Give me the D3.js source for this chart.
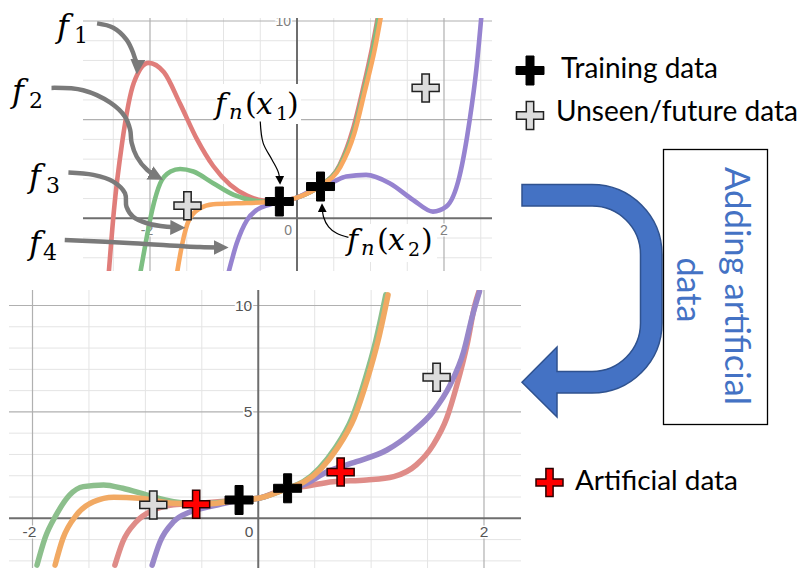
<!DOCTYPE html>
<html>
<head>
<meta charset="utf-8">
<script src="https://cdn.jsdelivr.net/npm/d3@7"></script>
<style>
body { margin: 0; background: #fff; }
svg { display: block; }
</style>
</head>
<body>
<div id="chart"></div>
<script>
// grid / tick values
const topXMinor = [-2.5, -1.5, -1, -0.5, 0.5, 1, 1.5, 2.5];
const botXMinor = [-1.5, -1, -0.5, 0.5, 1, 1.5];
const xMajor = [-2, 2];
const yMinor = [-2, -1, 1, 2, 3, 4, 6, 7, 8, 9];
const yMajor = [5, 10];
const xTickLabels = [-2, 0, 2];
const yTickLabelsTop = [10];      // the "5" sits under the f_n(x1) label
const yTickLabelsBot = [5, 10];

// top panel: the four fitted functions (x, y)
const f1Top = [[-2.56,-2.72],[-2.49,0.42],[-2.38,3.81],[-2.22,6.87],[-2.02,7.88],[-1.81,7.4],[-1.59,5.8],[-1.36,4.0],[-1.14,2.65],[-0.91,1.7],[-0.68,1.15],[-0.46,0.9],[-0.24,0.85],[0,1.05],[0.31,1.63],[0.58,2.7],[0.76,4.5],[0.9,6.6],[1.03,8.8],[1.11,10.4]];
const f2Top = [[-2.13,-2.72],[-2.06,-1.27],[-1.97,0.42],[-1.86,1.78],[-1.72,2.37],[-1.59,2.5],[-1.41,2.37],[-1.14,1.78],[-0.86,1.19],[-0.59,0.9],[-0.32,0.82],[-0.24,0.85],[0,1.05],[0.31,1.63],[0.58,2.65],[0.77,4.4],[0.91,6.5],[1.04,8.7],[1.12,10.4]];
const f3Top = [[-1.63,-2.72],[-1.56,-1.27],[-1.47,-0.09],[-1.32,0.51],[-1.14,0.71],[-0.82,0.76],[-0.5,0.8],[-0.24,0.85],[0,1.05],[0.31,1.63],[0.59,2.6],[0.78,4.3],[0.92,6.4],[1.06,8.6],[1.15,10.4]];
const f4Top = [[-0.93,-2.72],[-0.82,-1.27],[-0.68,-0.09],[-0.55,0.42],[-0.37,0.7],[-0.24,0.85],[0,1.05],[0.31,1.63],[0.49,1.85],[0.67,2.12],[0.94,2.2],[1.26,1.78],[1.58,0.93],[1.85,0.34],[2.03,0.59],[2.21,2.12],[2.35,5.0],[2.44,7.54],[2.51,10.3]];
const trainTop = [[-0.24, 0.85], [0.32, 1.61]];
const unseenTop = [[-1.49, 0.64], [1.75, 6.61]];

// bottom panel: functions after adding artificial data
const f1Bot = [[-1.27,-2.2],[-1.2,-1.1],[-1.08,-0.16],[-0.93,0.39],[-0.75,0.63],[-0.52,0.71],[-0.17,0.86],[0,0.94],[0.26,1.41],[0.4,1.49],[0.66,1.72],[0.96,1.8],[1.2,1.96],[1.4,2.51],[1.55,3.45],[1.67,4.71],[1.76,6.27],[1.85,8.16],[1.92,10.04],[1.96,10.74]];
const f2Bot = [[-1.96,-2.2],[-1.89,-0.94],[-1.79,0.16],[-1.67,1.1],[-1.55,1.49],[-1.37,1.57],[-1.2,1.41],[-0.99,1.1],[-0.75,0.78],[-0.52,0.67],[-0.17,0.86],[0,0.94],[0.26,1.41],[0.4,1.72],[0.54,2.35],[0.68,3.29],[0.83,4.71],[0.95,6.59],[1.04,8.31],[1.13,10.5]];
const f3Bot = [[-1.8,-2.2],[-1.73,-0.94],[-1.61,0.16],[-1.46,0.78],[-1.28,0.99],[-1.05,0.94],[-0.75,0.71],[-0.46,0.67],[-0.17,0.86],[0,0.94],[0.26,1.41],[0.41,1.72],[0.56,2.35],[0.7,3.29],[0.85,4.71],[0.97,6.59],[1.06,8.31],[1.15,10.5]];
const f4Bot = [[-0.94,-2.2],[-0.87,-1.1],[-0.75,-0.16],[-0.6,0.31],[-0.43,0.55],[-0.3,0.7],[-0.17,0.86],[0,0.94],[0.26,1.41],[0.4,1.57],[0.61,2.19],[0.87,2.66],[1.14,3.21],[1.37,4.08],[1.55,5.02],[1.7,6.27],[1.82,7.84],[1.9,9.57],[1.96,10.66]];
const trainBot = [[-0.17, 0.86], [0.26, 1.41]];
const unseenBot = [[-0.93, 0.63], [1.58, 6.63]];
const artBot = [[-0.55, 0.66], [0.73, 2.17]];

const legendTop = ["Training data", "Unseen/future data"];
const legendBot = ["Artificial data"];
const boxLines = ["Adding artificial", "data"];

// annotation arrows, in top-panel units
const arrowF1 = [[-2.72,9.88],[-2.5,9.66],[-2.32,9.06],[-2.23,8.39],[-2.18,7.71],[-2.18,7.29]];
const arrowF2 = [[-3.34,6.61],[-2.91,6.49],[-2.54,5.86],[-2.34,5.15],[-2.27,4.49],[-2.25,3.83],[-2.18,3.12],[-2.04,2.46],[-1.82,1.95]];
const arrowF3 = [[-3.11,2.32],[-2.77,2.2],[-2.5,1.86],[-2.34,1.27],[-2.32,0.59],[-2.23,0.08],[-2.04,-0.25],[-1.77,-0.43],[-1.52,-0.48]];
const arrowF4 = [[-3.16,-1.1],[-2.23,-1.26],[-1.32,-1.46],[-0.93,-1.48]];
const arrowX1 = [[-0.5,4.91],[-0.46,3.81],[-0.34,2.97],[-0.25,2.29],[-0.23,1.7]];
const arrowX2 = [[0.7,-0.97],[0.54,-0.76],[0.43,-0.43],[0.36,0.08],[0.34,0.76]];

const width = 803, height = 568;
const svg = d3.select("#chart").append("svg")
  .attr("width", width)
  .attr("height", height);
const defs = svg.append("defs");

function plusPath(hw, hh, t) {
  return `M${-t},${-hh}H${t}V${-t}H${hw}V${t}H${t}V${hh}H${-t}V${t}H${-hw}V${-t}H${-t}Z`;
}
const markStyle = {
  train: {fill: "#000", stroke: "#000", sw: 1, d: plusPath(14, 14.5, 4)},
  unseen: {fill: "#dcdcdc", stroke: "#222", sw: 1.5, d: plusPath(13.5, 14, 3.7)},
  art: {fill: "#ff0000", stroke: "#2a0000", sw: 1.5, d: plusPath(13.5, 14, 3.6)}
};

function drawPanel(cfg) {
  const {id, x, y, box} = cfg;
  defs.append("clipPath").attr("id", id).append("rect")
    .attr("x", box.x0).attr("y", box.y0)
    .attr("width", box.x1 - box.x0).attr("height", box.y1 - box.y0);
  const g = svg.append("g").attr("clip-path", `url(#${id})`);

  // grid
  g.selectAll(null).data(cfg.xMinor).join("line")
    .attr("x1", d => x(d)).attr("x2", d => x(d))
    .attr("y1", box.y0).attr("y2", box.y1)
    .attr("stroke", "#e4e4e4").attr("stroke-width", 1);
  g.selectAll(null).data(yMinor).join("line")
    .attr("x1", box.x0).attr("x2", box.x1)
    .attr("y1", d => y(d)).attr("y2", d => y(d))
    .attr("stroke", "#e4e4e4").attr("stroke-width", 1);
  g.selectAll(null).data(xMajor).join("line")
    .attr("x1", d => x(d)).attr("x2", d => x(d))
    .attr("y1", box.y0).attr("y2", box.y1)
    .attr("stroke", "#b0b0b0").attr("stroke-width", 1.2);
  g.selectAll(null).data(yMajor).join("line")
    .attr("x1", box.x0).attr("x2", box.x1)
    .attr("y1", d => y(d)).attr("y2", d => y(d))
    .attr("stroke", "#b0b0b0").attr("stroke-width", 1.2);
  // axes
  g.append("line").attr("x1", box.x0).attr("x2", box.x1)
    .attr("y1", y(0)).attr("y2", y(0))
    .attr("stroke", "#6e6e6e").attr("stroke-width", 2);
  g.append("line").attr("x1", x(0)).attr("x2", x(0))
    .attr("y1", box.y0).attr("y2", box.y1)
    .attr("stroke", "#6e6e6e").attr("stroke-width", 2);

  // tick labels
  const lab = g.append("g")
    .attr("font-family", "'Liberation Sans', Arial, sans-serif")
    .attr("font-size", cfg.labelSize)
    .attr("fill", cfg.labelColor)
    .attr("stroke", "#fff").attr("stroke-width", 3)
    .attr("paint-order", "stroke");
  lab.selectAll(null).data(xTickLabels).join("text")
    .attr("x", d => d === 0 ? x(0) - 5 : x(d) + (d < 0 ? -3 : 0))
    .attr("y", y(0) + cfg.labelSize + 3)
    .attr("text-anchor", d => d === 0 ? "end" : "middle")
    .text(d => d < 0 ? "-" + Math.abs(d) : d);
  lab.selectAll(null).data(cfg.yLabels).join("text")
    .attr("x", x(0) - 6)
    .attr("y", d => y(d))
    .attr("dy", "0.36em")
    .attr("text-anchor", "end")
    .text(d => d);

  // curves
  const line = d3.line()
    .x(d => x(d[0])).y(d => y(d[1]))
    .curve(d3.curveMonotoneX);
  g.selectAll(null).data(cfg.curves).join("path")
    .attr("d", d => line(d.values))
    .attr("fill", "none")
    .attr("stroke", d => d.color)
    .attr("stroke-width", cfg.lineWidth)
    .attr("stroke-linecap", "round");

  // data markers
  cfg.markers.forEach(m => {
    const s = markStyle[m.kind];
    svg.selectAll(null).data(m.values).join("path")
      .attr("d", s.d)
      .attr("transform", d => `translate(${x(d[0])},${y(d[1])})`)
      .attr("fill", s.fill).attr("stroke", s.stroke).attr("stroke-width", s.sw);
  });
}

const xTop = d3.scaleLinear().domain([-2, 2]).range([150, 444]);
const yTop = d3.scaleLinear().domain([0, 10]).range([218.3, 21]);
const xBot = d3.scaleLinear().domain([-2, 2]).range([32.5, 484]);
const yBot = d3.scaleLinear().domain([0, 10]).range([518.3, 305.5]);

drawPanel({
  id: "clipTop", x: xTop, y: yTop,
  box: {x0: 83, x1: 492, y0: 18, y1: 271},
  xMinor: topXMinor, yLabels: yTickLabelsTop,
  labelSize: 14, labelColor: "#808080", lineWidth: 4.6,
  curves: [
    {values: f1Top, color: "#e07d7a"},
    {values: f2Top, color: "#7dbe82"},
    {values: f4Top, color: "#9683d0"},
    {values: f3Top, color: "#f8a860"}
  ],
  markers: [
    {kind: "unseen", values: unseenTop},
    {kind: "train", values: trainTop}
  ]
});

drawPanel({
  id: "clipBot", x: xBot, y: yBot,
  box: {x0: 9, x1: 521, y0: 290, y1: 568},
  xMinor: botXMinor, yLabels: yTickLabelsBot,
  labelSize: 15.5, labelColor: "#555", lineWidth: 5.5,
  curves: [
    {values: f1Bot, color: "#df8c88"},
    {values: f2Bot, color: "#8cbf8c"},
    {values: f4Bot, color: "#9887c9"},
    {values: f3Bot, color: "#f1a963"}
  ],
  markers: [
    {kind: "unseen", values: unseenBot},
    {kind: "art", values: artBot},
    {kind: "train", values: trainBot}
  ]
});

// arrow heads
function addHead(id, color, size) {
  defs.append("marker").attr("id", id)
    .attr("viewBox", "0 0 10 10").attr("refX", 10).attr("refY", 5)
    .attr("markerWidth", size).attr("markerHeight", size)
    .attr("markerUnits", "userSpaceOnUse").attr("orient", "auto")
    .append("path").attr("d", "M0,0L10,5L0,10Z").attr("fill", color);
}
addHead("headGrey", "#7a7a7a", 15);
addHead("headBlack", "#000", 9);

const arrowLine = d3.line().x(d => xTop(d[0])).y(d => yTop(d[1])).curve(d3.curveCatmullRom);
function drawArrow(pts, color, w, head, cut) {
  const p = svg.append("path")
    .attr("d", arrowLine(pts))
    .attr("fill", "none").attr("stroke", color).attr("stroke-width", w)
    .attr("marker-end", `url(#${head})`);
  const L = p.node().getTotalLength();
  p.attr("stroke-dasharray", `${L - cut} ${L}`);
}

// white boxes behind the f_n(x) labels
svg.append("rect").attr("x", 216).attr("y", 84).attr("width", 85).attr("height", 40).attr("fill", "#fff");
svg.append("rect").attr("x", 347).attr("y", 224).attr("width", 90).attr("height", 38).attr("fill", "#fff");

[arrowF1, arrowF2, arrowF3, arrowF4].forEach(a => drawArrow(a, "#7a7a7a", 4.5, "headGrey", 9));
drawArrow(arrowX1, "#000", 1.2, "headBlack", 5);
drawArrow(arrowX2, "#000", 1.2, "headBlack", 5);

// math labels
const serif = "'DejaVu Serif', 'Liberation Serif', serif";
function mathLabel(parts) {
  const t = svg.append("text").attr("font-family", serif).attr("fill", "#000");
  parts.forEach(p => {
    t.append("tspan")
      .attr("x", p[1]).attr("y", p[2])
      .attr("font-size", p[3])
      .attr("font-style", p[4] ? "italic" : "normal")
      .text(p[0]);
  });
}
mathLabel([["f", 57, 37, 32, true], ["1", 74, 43, 22, false]]);
mathLabel([["f", 12, 102, 32, true], ["2", 29, 108, 22, false]]);
mathLabel([["f", 29, 187, 32, true], ["3", 46, 193, 22, false]]);
mathLabel([["f", 29, 254, 32, true], ["4", 43, 260, 22, false]]);
mathLabel([["f", 215, 114, 30, true], ["n", 229, 119, 21, true], ["(", 245, 114, 30, false],
           ["x", 256, 114, 30, true], ["1", 276, 120, 19, false], [")", 287, 114, 30, false]]);
mathLabel([["f", 347, 250, 30, true], ["n", 361, 255, 21, true], ["(", 377, 250, 30, false],
           ["x", 388, 250, 30, true], ["2", 408, 256, 19, false], [")", 421, 250, 30, false]]);

// legend
const sans = "Lato, 'Open Sans', sans-serif";
function fitWidth(sel, target) {
  const w = sel.node().getComputedTextLength();
  sel.attr("font-size", parseFloat(sel.attr("font-size")) * target / w);
}
const legendRows = [
  {label: legendTop[0], kind: "train", cx: 530, cy: 70.5, tx: 561, ty: 77.5, w: 157},
  {label: legendTop[1], kind: "unseen", cx: 530, cy: 115.5, tx: 556, ty: 121, w: 242},
  {label: legendBot[0], kind: "art", cx: 549.5, cy: 482.5, tx: 575, ty: 489.5, w: 163}
];
legendRows.forEach(r => {
  const s = markStyle[r.kind];
  svg.append("path").attr("d", s.d)
    .attr("transform", `translate(${r.cx},${r.cy})`)
    .attr("fill", s.fill).attr("stroke", s.stroke).attr("stroke-width", s.sw);
  const t = svg.append("text")
    .attr("x", r.tx).attr("y", r.ty)
    .attr("font-family", sans).attr("font-size", 26)
    .attr("fill", "#000").text(r.label);
  fitWidth(t, r.w);
});

// U-turn arrow
svg.append("path")
  .attr("d", "M522,184.5H592A70,70 0 0 1 662,254.5V323A70,70 0 0 1 592,393H557V417L522,382.3L557,347V371.5H592A48.5,48.5 0 0 0 640.5,323V254.5A48.5,48.5 0 0 0 592,206H522Z")
  .attr("fill", "#4472c4").attr("stroke", "#2f528f").attr("stroke-width", 1.5);

// label box
svg.append("rect").attr("x", 663.5).attr("y", 149.5).attr("width", 104).attr("height", 275)
  .attr("fill", "#fff").attr("stroke", "#000").attr("stroke-width", 1.3);
const boxText = [
  {text: boxLines[0], bx: 725, cy: 286, w: 238},
  {text: boxLines[1], bx: 677, cy: 290, w: 65}
];
boxText.forEach(b => {
  const t = svg.append("text")
    .attr("transform", `translate(${b.bx},${b.cy}) rotate(90)`)
    .attr("text-anchor", "middle")
    .attr("font-family", sans).attr("font-size", 36)
    .attr("fill", "#4472c4").text(b.text);
  fitWidth(t, b.w);
});
</script>
</body>
</html>
